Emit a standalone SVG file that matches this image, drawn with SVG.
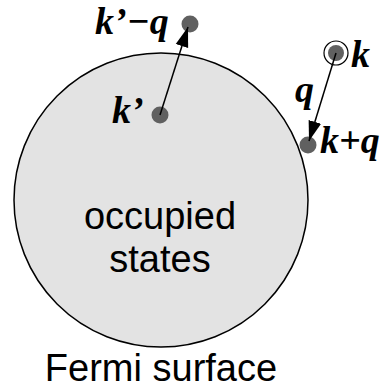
<svg xmlns="http://www.w3.org/2000/svg" width="382" height="390" viewBox="0 0 382 390">
<defs>
<style>
.lbl{font-family:"Liberation Serif","Times New Roman",serif;font-weight:bold;font-style:italic;font-size:38px;fill:#000}
.sans{font-family:"Liberation Sans",Arial,sans-serif;font-size:38px;fill:#000;text-anchor:middle}
.dot{fill:#606060}
.arr{stroke:#000;stroke-width:1.5;fill:none;marker-end:url(#ah)}
</style>
<marker id="ah" markerUnits="userSpaceOnUse" markerWidth="22" markerHeight="16" viewBox="0 0 22 16" refX="20" refY="8" orient="auto">
<path d="M0,1.5 L20,8 L0,14.5 Z" fill="#000"/>
</marker>
</defs>
<rect width="382" height="390" fill="#fff"/>
<g id="fermi-sphere">
<circle cx="161" cy="200" r="147" fill="#e3e3e3" stroke="#000" stroke-width="1.5"/>
<text class="sans" x="160" y="229">occupied</text>
<text class="sans" x="160" y="272">states</text>
</g>
<g id="fermi-label">
<text class="sans" x="161" y="381">Fermi surface</text>
</g>
<g id="node-kp">
<circle class="dot" cx="160" cy="115" r="8.5"/>
<text class="lbl" x="112" y="123">k’</text>
</g>
<g id="node-kpq">
<circle class="dot" cx="190" cy="24" r="8.5"/>
<text class="lbl" x="95" y="34">k’−q</text>
</g>
<g id="node-k">
<circle cx="336" cy="53" r="12" fill="#fff" stroke="#000" stroke-width="1.2"/>
<circle class="dot" cx="336" cy="53" r="8"/>
<text class="lbl" x="351" y="67">k</text>
</g>
<g id="node-kq">
<circle class="dot" cx="308" cy="145" r="8.5"/>
<text class="lbl" x="320" y="153">k+q</text>
</g>
<g id="connectors">
<line class="arr" x1="160" y1="115" x2="188" y2="27"/>
<line class="arr" x1="336" y1="53" x2="309" y2="141"/>
<text class="lbl" x="295" y="102">q</text>
</g>
</svg>
